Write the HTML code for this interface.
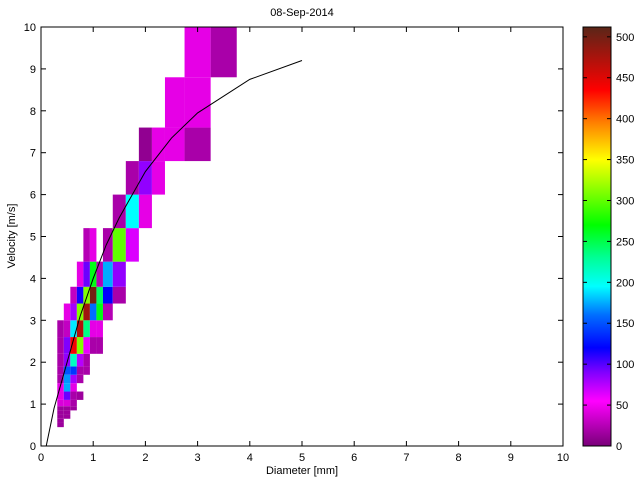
<!DOCTYPE html>
<html><head><meta charset="utf-8"><style>
body{margin:0;background:#fff;}
svg{display:block;font-family:"Liberation Sans",sans-serif;}
</style></head><body>
<svg id="chart" width="640" height="480" viewBox="0 0 640 480" xmlns="http://www.w3.org/2000/svg">
<defs><clipPath id="pc"><rect x="41" y="27" width="522" height="419"/></clipPath>
<linearGradient id="cbg" x1="0" y1="1" x2="0" y2="0"></linearGradient></defs>
<rect x="0" y="0" width="640" height="480" fill="#fff"/>
<g id="cells" clip-path="url(#pc)"></g>
<g id="fit" clip-path="url(#pc)"></g>
<rect x="41" y="27" width="522" height="419" fill="none" stroke="#000" stroke-width="1"/>
<g id="axes" font-size="11" fill="#000"></g>
<text x="302" y="16" text-anchor="middle" font-size="11">08-Sep-2014</text>
<text x="302" y="474" text-anchor="middle" font-size="11">Diameter [mm]</text>
<text transform="translate(15,236) rotate(-90)" text-anchor="middle" font-size="11">Velocity [m/s]</text>
<g id="colorbar"></g>
</svg>
<script>
const diamCenters=[0.062,0.187,0.312,0.437,0.562,0.687,0.812,0.937,1.062,1.187,1.375,1.625,1.875,2.125,2.375,2.75,3.25,3.75,4.25,4.75,5.5];
const velCenters=[0.05,0.15,0.25,0.35,0.45,0.55,0.65,0.75,0.85,0.95,1.1,1.3,1.5,1.7,1.9,2.2,2.6,3.0,3.4,3.8,4.4,5.2,6.0,6.8,7.6,8.8,10.4];
const cellDiam=[0.312,0.312,0.312,0.437,0.312,0.437,0.312,0.437,0.562,0.312,0.437,0.562,
0.312,0.437,0.562,0.687,0.312,0.437,0.562,0.312,0.437,0.562,0.687,
0.312,0.437,0.562,0.687,0.812,0.312,0.437,0.562,0.687,0.812,
0.312,0.437,0.562,0.687,0.812,0.937,1.062,
0.312,0.437,0.562,0.687,0.812,0.937,1.062,
0.437,0.562,0.687,0.812,0.937,1.062,1.187,
0.562,0.687,0.812,0.937,1.062,1.187,1.375,
0.687,0.812,0.937,1.062,1.187,1.375,
0.812,0.937,1.187,1.375,1.625,
1.375,1.625,1.875,1.625,1.875,2.125,1.875,2.125,2.375,2.75,2.375,2.75,2.75,3.25];
const cellVel=[0.45,0.55,0.65,0.65,0.75,0.75,0.85,0.85,0.85,0.95,0.95,0.95,
1.1,1.1,1.1,1.1,1.3,1.3,1.3,1.5,1.5,1.5,1.5,
1.7,1.7,1.7,1.7,1.7,1.9,1.9,1.9,1.9,1.9,
2.2,2.2,2.2,2.2,2.2,2.2,2.2,
2.6,2.6,2.6,2.6,2.6,2.6,2.6,
3.0,3.0,3.0,3.0,3.0,3.0,3.0,
3.4,3.4,3.4,3.4,3.4,3.4,3.4,
3.8,3.8,3.8,3.8,3.8,3.8,
4.4,4.4,4.4,4.4,4.4,
5.2,5.2,5.2,6.0,6.0,6.0,6.8,6.8,6.8,6.8,7.6,7.6,8.8,8.8];
const cellCount=[15,15,15,15,15,15,15,15,15,40,40,20,
45,95,20,15,45,175,45,20,170,80,20,
20,150,140,20,20,20,85,215,75,20,
20,90,440,310,60,20,20,
20,30,190,470,235,45,45,
45,80,310,480,160,265,25,
30,115,310,500,245,120,20,
45,95,265,25,175,85,
25,45,20,300,65,
20,195,45,20,85,45,10,45,45,20,45,45,45,20];
const fitDiam=[0.1,0.25,0.5,0.75,1,1.25,1.5,2,2.5,3,4,5];
const fitVel=[0,0.9,2.0,3.1,4.0,4.8,5.45,6.55,7.35,7.95,8.75,9.2];
const xTicks=[0,1,2,3,4,5,6,7,8,9,10];
const yTicks=[0,1,2,3,4,5,6,7,8,9,10];
const cbTicks=[0,50,100,150,200,250,300,350,400,450,500];
const cMax=512;
const NS='http://www.w3.org/2000/svg';
const X=d=>41+d*52.2, Y=v=>446-v*41.9;
const stops=[[0,[120,0,120]],[55,[255,0,255]],[90,[128,0,255]],[120,[0,0,255]],[160,[0,110,255]],[195,[0,255,255]],[230,[0,255,150]],[270,[0,255,0]],[350,[255,255,0]],[395,[255,128,0]],[435,[255,0,0]],[512,[90,38,24]]];
function cmap(v){for(let i=1;i<stops.length;i++){if(v<=stops[i][0]){const a=stops[i-1],b=stops[i],t=(v-a[0])/(b[0]-a[0]);return 'rgb('+a[1].map((c,k)=>Math.round(c+(b[1][k]-c)*t)).join(',')+')';}}return 'rgb(90,38,24)';}
function mk(tag,attrs,parent){const e=document.createElementNS(NS,tag);for(const k in attrs)e.setAttribute(k,attrs[k]);parent.appendChild(e);return e;}
const cells=document.getElementById('cells');
for(let i=0;i<cellCount.length;i++){
 const di=diamCenters.indexOf(cellDiam[i]), vi=velCenters.indexOf(cellVel[i]);
 const x0=X(diamCenters[di]),x1=X(diamCenters[di+1]),y0=Y(velCenters[vi]),y1=Y(velCenters[vi+1]);
 const r=mk('rect',{x:x0,y:y1,width:x1-x0,height:y0-y1,fill:cmap(cellCount[i])},cells);
 
 
}
const fit=document.getElementById('fit');
const pl=mk('polyline',{points:fitDiam.map((d,i)=>X(d)+','+Y(fitVel[i])).join(' '),fill:'none',stroke:'#000','stroke-width':1},fit);


const ax=document.getElementById('axes');
xTicks.forEach(t=>{const x=X(t);
 mk('line',{x1:x,x2:x,y1:446,y2:441,stroke:'#000'},ax);mk('line',{x1:x,x2:x,y1:27,y2:32,stroke:'#000'},ax);
 const tx=mk('text',{x:x,y:461,'text-anchor':'middle'},ax);tx.textContent=t;
 
 });
yTicks.forEach(t=>{const y=Y(t);
 mk('line',{x1:41,x2:46,y1:y,y2:y,stroke:'#000'},ax);mk('line',{x1:563,x2:558,y1:y,y2:y,stroke:'#000'},ax);
 const tx=mk('text',{x:36,y:y+4,'text-anchor':'end'},ax);tx.textContent=t;
 
 });
const cb=document.getElementById('colorbar');
const g=document.getElementById('cbg');
stops.forEach(s=>mk('stop',{offset:(s[0]/cMax),'stop-color':cmap(s[0])},g));
mk('rect',{x:583,y:27,width:28,height:419,fill:'url(#cbg)',stroke:'#000'},cb);
cbTicks.forEach(t=>{const y=446-t/cMax*419;
 mk('line',{x1:583,x2:587,y1:y,y2:y,stroke:'#000'},cb);mk('line',{x1:611,x2:607,y1:y,y2:y,stroke:'#000'},cb);
 const tx=mk('text',{x:616,y:y+4,'font-size':11},cb);tx.textContent=t;
 
 });
</script>
</body></html>
